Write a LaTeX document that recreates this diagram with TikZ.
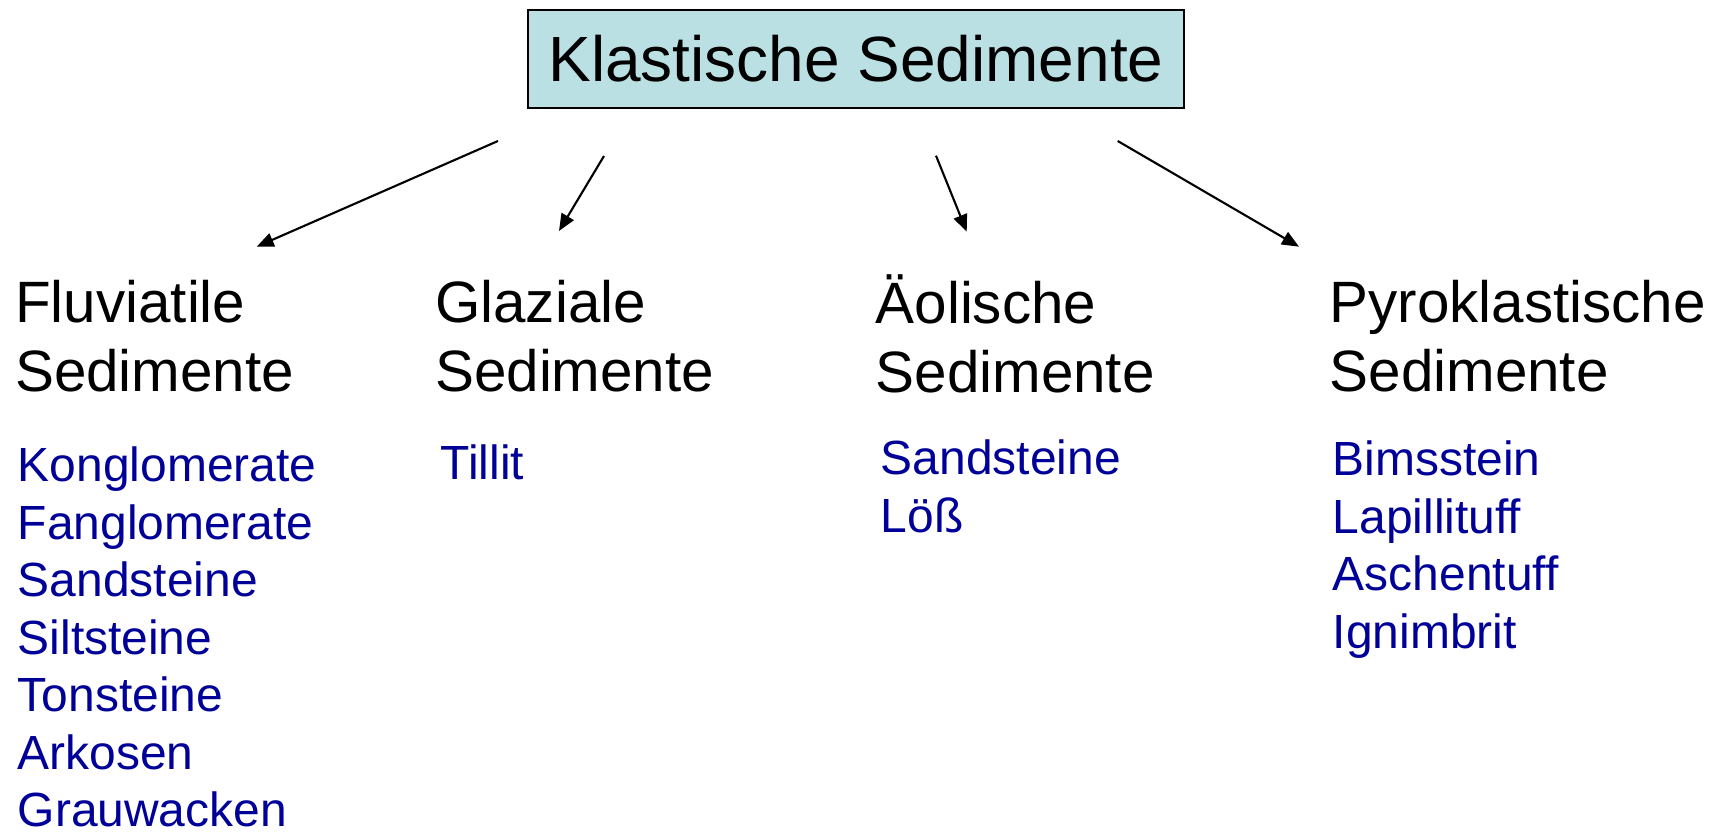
\documentclass[tikz,border=0pt]{standalone}
\usepackage{fontspec}
\setmainfont{Liberation Sans}
\usepackage{xcolor}
\usetikzlibrary{arrows.meta,positioning}
\definecolor{boxteal}{RGB}{187,224,227}
\definecolor{listblue}{RGB}{0,0,153}

\begin{document}
\begin{tikzpicture}
		\tikzstyle{every node}=[inner sep=0pt]
		\tikzstyle{heading}=[anchor=north west, align=left, font=\fontsize{16.6}{19.5}\selectfont]
		\tikzstyle{rocks}=[anchor=north west, align=left, text=listblue, font=\fontsize{13.65}{16.36}\selectfont]
		\tikzstyle{branch}=[line width=0.6pt, -{Triangle[length=1.7mm, width=1.4mm]}]
		\path [fill=white] (0,0) rectangle (17.21,8.32);
		% top box
		\node [draw, line width=0.6pt, fill=boxteal, minimum width=6.56cm, minimum height=0.98cm, font=\fontsize{18.2}{22}\selectfont] (klastisch) at (8.56,7.73) {Klastische Sedimente};
		% the four groups
		\node [heading] (fluv) at (0.145,5.58) {\strut Fluviatile\\Sedimente};
		\node [heading] (glaz) at (4.345,5.58) {\strut Glaziale\\Sedimente};
		\node [heading] (aeol) at (8.75,5.58) {\strut Äolische\\Sedimente};
		\node [heading] (pyro) at (13.29,5.58) {\strut Pyroklastische\\Sedimente};
		% rock lists
		\node [rocks] (fluvrocks) at (0.17,3.91) {\strut Konglomerate\\Fanglomerate\\Sandsteine\\Siltsteine\\Tonsteine\\Arkosen\\Grauwacken};
		\node [rocks] (glazrocks) at (4.40,3.937) {\strut Tillit};
		\node [rocks] (aeolrocks) at (8.80,3.98) {\strut Sandsteine\\Löß};
		\node [rocks] (pyrorocks) at (13.32,3.972) {\strut Bimsstein\\Lapillituff\\Aschentuff\\Ignimbrit};
		% arrows
		\coordinate (fluv-from) at (4.98,6.91);
		\coordinate (fluv-to) at (2.567,5.853);
		\coordinate (glaz-from) at (6.04,6.76);
		\coordinate (glaz-to) at (5.59,6.01);
		\coordinate (aeol-from) at (9.36,6.763);
		\coordinate (aeol-to) at (9.667,6.003);
		\coordinate (pyro-from) at (11.177,6.91);
		\coordinate (pyro-to) at (12.99,5.853);
		\draw [branch] (fluv-from) -- (fluv-to);
		\draw [branch] (glaz-from) -- (glaz-to);
		\draw [branch] (aeol-from) -- (aeol-to);
		\draw [branch] (pyro-from) -- (pyro-to);
\end{tikzpicture}
\end{document}
